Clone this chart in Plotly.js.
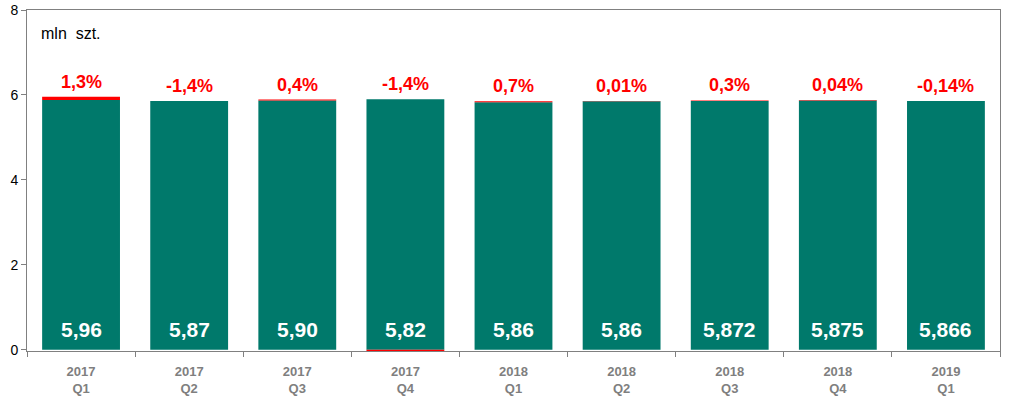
<!DOCTYPE html>
<html><head><meta charset="utf-8">
<script src="https://cdn.plot.ly/plotly-3.0.1.min.js"></script>
<style>html,body{margin:0;padding:0;background:#fff}</style>
</head><body><div id="chart" style="width:1024px;height:396px"></div>
<script>
const categories = ["2017<br>Q1","2017<br>Q2","2017<br>Q3","2017<br>Q4","2018<br>Q1","2018<br>Q2","2018<br>Q3","2018<br>Q4","2019<br>Q1"];
const baseValues = [5.88, 5.86, 5.87, 5.90, 5.83, 5.85, 5.86, 5.87, 5.86];
const changeValues = [0.08, 0, 0.02, -0.03, 0.02, 0.01, 0.01, 0.01, 0];
const totalLabels = ["5,96","5,87","5,90","5,82","5,86","5,86","5,872","5,875","5,866"];
const changeLabels = ["1,3%","-1,4%","0,4%","-1,4%","0,7%","0,01%","0,3%","0,04%","-0,14%"];
const yTicks = [0, 2, 4, 6, 8];

const FONT = 'Liberation Sans, Arial, sans-serif';
const green = '#00796B';
const traces = [
  {type:'bar', x:categories, y:baseValues, marker:{color:green}, width:0.72, hoverinfo:'none'},
  {type:'bar', x:categories, y:changeValues, marker:{color:'#FF0000'}, width:0.72, hoverinfo:'none'}
];

const annotations = [];
categories.forEach((c,i)=>{
  const top = baseValues[i] + Math.max(changeValues[i], 0);
  annotations.push({x:c, y:top, xref:'x', yref:'y', yanchor:'bottom', yshift:3,
    text:'<b>'+changeLabels[i]+'</b>', showarrow:false,
    font:{family:FONT, size:18, color:'#FF0000'}});
  annotations.push({x:c, y:0, xref:'x', yref:'y', yanchor:'bottom', yshift:7,
    text:'<b>'+totalLabels[i]+'</b>', showarrow:false,
    font:{family:FONT, size:21, color:'#FFFFFF'}});
});
annotations.push({x:0.012, y:0.93, xref:'paper', yref:'paper', xanchor:'left', yanchor:'middle',
  text:'mln  szt.', showarrow:false, font:{family:FONT, size:16, color:'#000'}});

const layout = {
  width:1024, height:396, margin:{l:27, r:24, t:10, b:45},
  barmode:'relative', showlegend:false, plot_bgcolor:'#fff', paper_bgcolor:'#fff',
  font:{family:FONT},
  xaxis:{type:'category', showline:true, linecolor:'#808080', linewidth:1, mirror:true,
    ticks:'outside', tickson:'boundaries', ticklen:5, tickcolor:'#808080',
    ticklabelstandoff:8,
    tickfont:{size:13, color:'#7f7f7f', weight:'bold'}, showgrid:false},
  yaxis:{range:[-0.03,8], tickvals:yTicks, ticktext:yTicks.map(String), showline:true, linecolor:'#808080', mirror:true,
    ticks:'outside', ticklen:5, tickcolor:'#808080', showgrid:false, zeroline:false,
    ticklabeloverflow:'allow', tickfont:{size:14, color:'#000'}},
  annotations:annotations
};
Plotly.newPlot('chart', traces, layout, {staticPlot:true});
</script></body></html>
